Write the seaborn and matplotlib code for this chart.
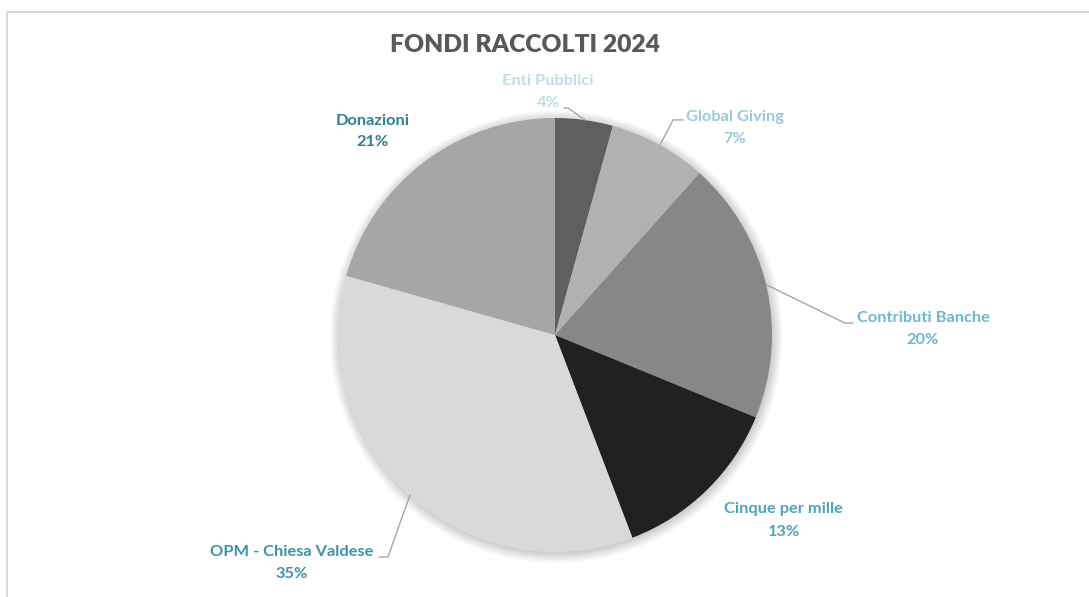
import matplotlib
matplotlib.use("Agg")
import matplotlib.pyplot as plt
from matplotlib.patches import Circle
from matplotlib.lines import Line2D
import seaborn as sns

# data
categories = ["Enti Pubblici", "Global Giving", "Contributi Banche",
              "Cinque per mille", "OPM - Chiesa Valdese", "Donazioni"]
shares = [4.3, 7.3, 19.6, 13.0, 35.2, 20.6]
slice_colors = ["#5f5f5f", "#b1b1b1", "#878787", "#212121", "#d9d9d9", "#a6a6a6"]
label_colors = ["#c2dde8", "#99c9db", "#6cb8ce", "#4aa5c0", "#3a93ac", "#2e7f95"]

# label placement (pie radius = 1)
name_x = [-0.032, 0.829, 1.696, 1.055, -1.212, -0.839]
name_y = [1.171, 1.005, 0.078, -0.802, -1.000, 0.986]
pct_y = [1.069, 0.903, -0.023, -0.908, -1.101, 0.889]
leaders = {
    0: ([0.041, 0.060, 0.138], [1.046, 1.046, 0.991]),
    1: ([0.590, 0.544, 0.484], [0.991, 0.991, 0.876]),
    2: ([1.373, 1.336, 0.977], [0.055, 0.055, 0.230]),
    4: ([-0.811, -0.770, -0.668], [-1.023, -1.023, -0.737]),
}

sns.set_theme(style="white")
plt.rcParams['font.family'] = ['Lato', 'DejaVu Sans']

fig = plt.figure(figsize=(10.89, 5.97), dpi=100)
ax = fig.add_axes([0, 0, 1, 1])

# soft shadow
for k in range(8):
    ax.add_patch(Circle((0.006, -0.008), 1.0 + 0.006 * k, color="#000000",
                        alpha=0.025, lw=0, zorder=0))

ax.pie(shares, colors=slice_colors, startangle=90, counterclock=False,
       wedgeprops=dict(linewidth=0), radius=1)

total = sum(shares)
for i, cat in enumerate(categories):
    ax.text(name_x[i], name_y[i], cat, ha="center", va="center",
            fontsize=11.8, fontweight="bold", color=label_colors[i])
    ax.text(name_x[i], pct_y[i], f"{shares[i] / total * 100:.0f}%", ha="center",
            va="center", fontsize=11.8, fontweight="bold", color=label_colors[i])

for i, (xs, ys) in leaders.items():
    ax.plot(xs, ys, color="#a6a6a6", lw=1)

ax.set_xlim(-555 / 217, 534 / 217)
ax.set_ylim(-262 / 217, 335 / 217)
ax.axis("off")

fig.text(0.482, 0.925, "FONDI RACCOLTI 2024", ha="center", va="center",
         fontsize=17.7, fontweight="heavy", color="#595959")

# chart frame (top and left edges visible)
fig.add_artist(Line2D([7 / 1089, 1], [1 - 12 / 597, 1 - 12 / 597],
                      transform=fig.transFigure, color="#d9d9d9", lw=1.5))
fig.add_artist(Line2D([7 / 1089, 7 / 1089], [0, 1 - 12 / 597],
                      transform=fig.transFigure, color="#d9d9d9", lw=1.5))

fig.savefig("out.png", dpi=100)
